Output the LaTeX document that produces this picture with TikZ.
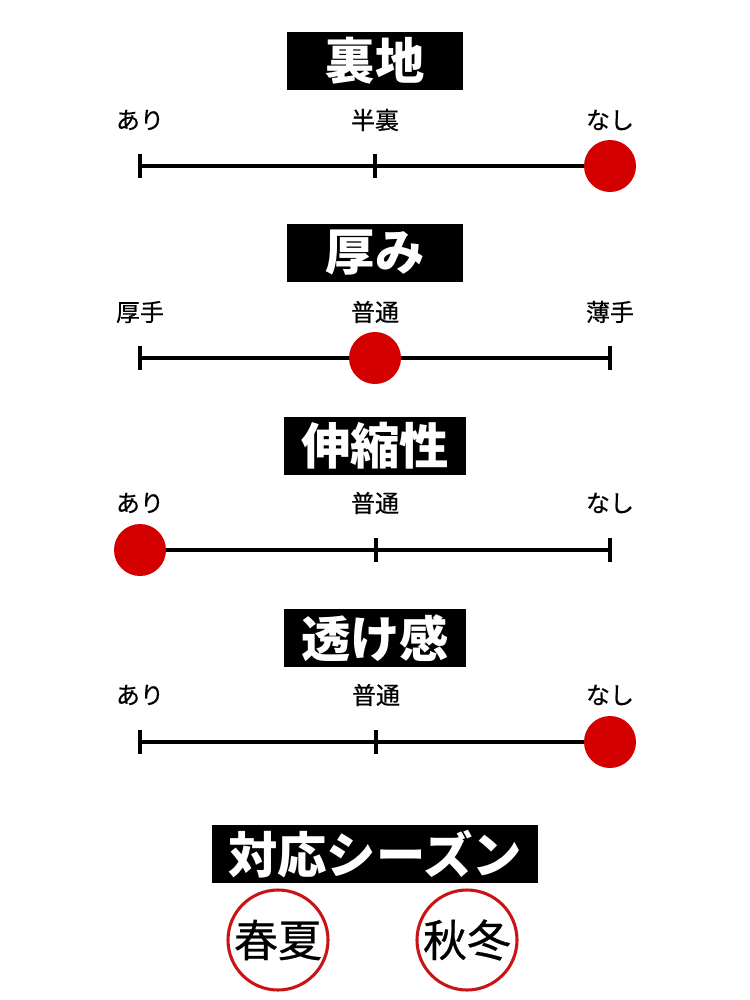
\documentclass[tikz,border=0pt]{standalone}
\usepackage{fontspec}
\setmainfont{Noto Sans CJK JP}
\newfontfamily\labelfont{Noto Sans CJK JP}[FakeBold=0.5]
\usetikzlibrary{calc}
\definecolor{DotRed}{HTML}{D40000}
\definecolor{RingRed}{HTML}{C81414}
\tikzset{
    titlebox/.style = {fill=black, text=white, inner xsep=12.5pt, inner ysep=0pt,
        minimum width=132pt,
        minimum height=43.5pt,
        font=\fontsize{37}{37}\selectfont\bfseries},
    scalelabel/.style = {inner sep=0pt, font=\labelfont\fontsize{18}{18}\selectfont},
    scaleline/.style = {draw, line width=2.6pt},
    dot/.style = {circle, fill=DotRed, minimum size=39pt, inner sep=0pt},
    season/.style = {circle, draw=RingRed, line width=2.3pt, minimum size=75pt,
        inner sep=0pt, font=\labelfont\fontsize{33}{33}\selectfont}
}
\begin{document}
\begin{tikzpicture}[x=0.75pt,y=-0.75pt]
            \useasboundingbox (0,0) rectangle (750,1000);
            % 裏地
            \node[titlebox] (lining) at (375,61) {裏地};
            \node[scalelabel] (lining-l) at (140,120) {あり};
            \node[scalelabel] (lining-m) at (375,120) {半裏};
            \node[scalelabel] (lining-r) at (610,120) {なし};
            \coordinate (lining-a) at (140,166);
            \coordinate (lining-b) at (375,166);
            \coordinate (lining-c) at (610,166);
            \draw[scaleline] (lining-a) -- (lining-c);
            \foreach \p in {a,b,c} \draw[scaleline] ($(lining-\p)+(0,-12)$) -- ($(lining-\p)+(0,12)$);
            \node[dot] (lining-dot) at (lining-c) {};
            % 厚み
            \node[titlebox] (thick) at (375,253) {厚み};
            \node[scalelabel] (thick-l) at (140,312) {厚手};
            \node[scalelabel] (thick-m) at (375,312) {普通};
            \node[scalelabel] (thick-r) at (610,312) {薄手};
            \coordinate (thick-a) at (140,358);
            \coordinate (thick-b) at (375,358);
            \coordinate (thick-c) at (610,358);
            \draw[scaleline] (thick-a) -- (thick-c);
            \foreach \p in {a,b,c} \draw[scaleline] ($(thick-\p)+(0,-12)$) -- ($(thick-\p)+(0,12)$);
            \node[dot] (thick-dot) at (thick-b) {};
            % 伸縮性
            \node[titlebox] (stretch) at (375,446) {伸縮性};
            \node[scalelabel] (stretch-l) at (140,503) {あり};
            \node[scalelabel] (stretch-m) at (375,503) {普通};
            \node[scalelabel] (stretch-r) at (610,503) {なし};
            \coordinate (stretch-a) at (140,550);
            \coordinate (stretch-b) at (376,550);
            \coordinate (stretch-c) at (610,550);
            \draw[scaleline] (stretch-a) -- (stretch-c);
            \foreach \p in {a,b,c} \draw[scaleline] ($(stretch-\p)+(0,-12)$) -- ($(stretch-\p)+(0,12)$);
            \node[dot] (stretch-dot) at (stretch-a) {};
            % 透け感
            \node[titlebox] (sheer) at (375,638) {透け感};
            \node[scalelabel] (sheer-l) at (140,695) {あり};
            \node[scalelabel] (sheer-m) at (376,695) {普通};
            \node[scalelabel] (sheer-r) at (610,695) {なし};
            \coordinate (sheer-a) at (140,742);
            \coordinate (sheer-b) at (376,742);
            \coordinate (sheer-c) at (610,742);
            \draw[scaleline] (sheer-a) -- (sheer-c);
            \foreach \p in {a,b,c} \draw[scaleline] ($(sheer-\p)+(0,-12)$) -- ($(sheer-\p)+(0,12)$);
            \node[dot] (sheer-dot) at (sheer-c) {};
            % 対応シーズン
            \node[titlebox] (seasons) at (375,854) {対応シーズン};
            \node[season] (springsummer) at (278,940) {春夏};
            \node[season] (autumnwinter) at (467,940) {秋冬};
            \end{tikzpicture}
\end{document}
